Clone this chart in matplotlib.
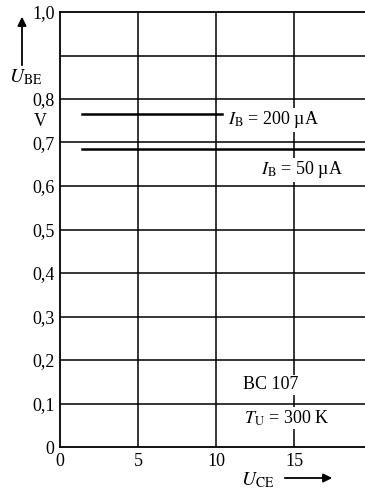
import matplotlib
matplotlib.use("Agg")
import matplotlib.pyplot as plt

plt.rcParams['font.family'] = ['Liberation Serif', 'DejaVu Serif']
plt.rcParams['mathtext.fontset'] = 'stix'

# data
ib200_x = [1.4, 10.4]
ib200_y = [0.766, 0.766]
ib50_x = [1.4, 19.6]
ib50_y = [0.684, 0.684]
xticks = [0, 5, 10, 15]
xticklabels = ["0", "5", "10", "15"]
yticks = [0, 0.1, 0.2, 0.3, 0.4, 0.5, 0.6, 0.7, 0.8, 1.0]
yticklabels = ["0", "0,1", "0,2", "0,3", "0,4", "0,5", "0,6", "0,7", "0,8", "1,0"]

fig = plt.figure(figsize=(3.65, 4.92), dpi=100)
ax = fig.add_axes([60/365, 1-447/492, 1-60/365, (447-12)/492])
ax.set_xlim(0, 19.55)
ax.set_ylim(0, 1.0)

# grid
for v in [0.1*i for i in range(1, 10)]:
    ax.axhline(v, color='black', lw=1.1, zorder=1)
for v in [5, 10, 15]:
    ax.axvline(v, color='black', lw=1.1, zorder=1)

ax.plot(ib200_x, ib200_y, color='black', lw=1.8, zorder=2)
ax.plot(ib50_x, ib50_y, color='black', lw=1.8, zorder=2)

fs = 13
box = dict(facecolor='white', edgecolor='none', pad=1)
ax.text(10.8, 0.752, r"$I_\mathrm{B}$ = 200 µA", fontsize=fs, va='center', ha='left', bbox=box, zorder=3)
ax.text(12.9, 0.637, r"$I_\mathrm{B}$ = 50 µA", fontsize=fs, va='center', ha='left', bbox=box, zorder=3)
ax.text(11.7, 0.143, "BC 107", fontsize=fs, va='center', ha='left', bbox=box, zorder=3)
ax.text(11.8, 0.066, r"$T_\mathrm{U}$ = 300 K", fontsize=fs, va='center', ha='left', bbox=box, zorder=3)

ax.set_xticks(xticks)
ax.set_xticklabels(xticklabels, fontsize=fs)
ax.set_yticks(yticks)
ax.set_yticklabels(yticklabels, fontsize=fs)
ax.tick_params(length=0, pad=4)
for s in ['left', 'bottom', 'top']:
    ax.spines[s].set_linewidth(1.3)
ax.spines['right'].set_visible(False)

# axis labels with arrows
fig.text(26/365, 1-77/492, r"$U_\mathrm{BE}$", fontsize=fs+1, ha='center', va='center')
fig.text(40/365, 1-122/492, "V", fontsize=fs, ha='center', va='center')
fig.add_artist(matplotlib.patches.FancyArrowPatch((22/365, 1-68/492), (22/365, 1-14/492),
               transform=fig.transFigure, arrowstyle='-|>', mutation_scale=13, lw=1.3, color='black'))
fig.text(258/365, 1-480/492, r"$U_\mathrm{CE}$", fontsize=fs+1, ha='center', va='center')
fig.add_artist(matplotlib.patches.FancyArrowPatch((282/365, 1-478/492), (335/365, 1-478/492),
               transform=fig.transFigure, arrowstyle='-|>', mutation_scale=13, lw=1.3, color='black'))

fig.savefig("out.png", dpi=100)
